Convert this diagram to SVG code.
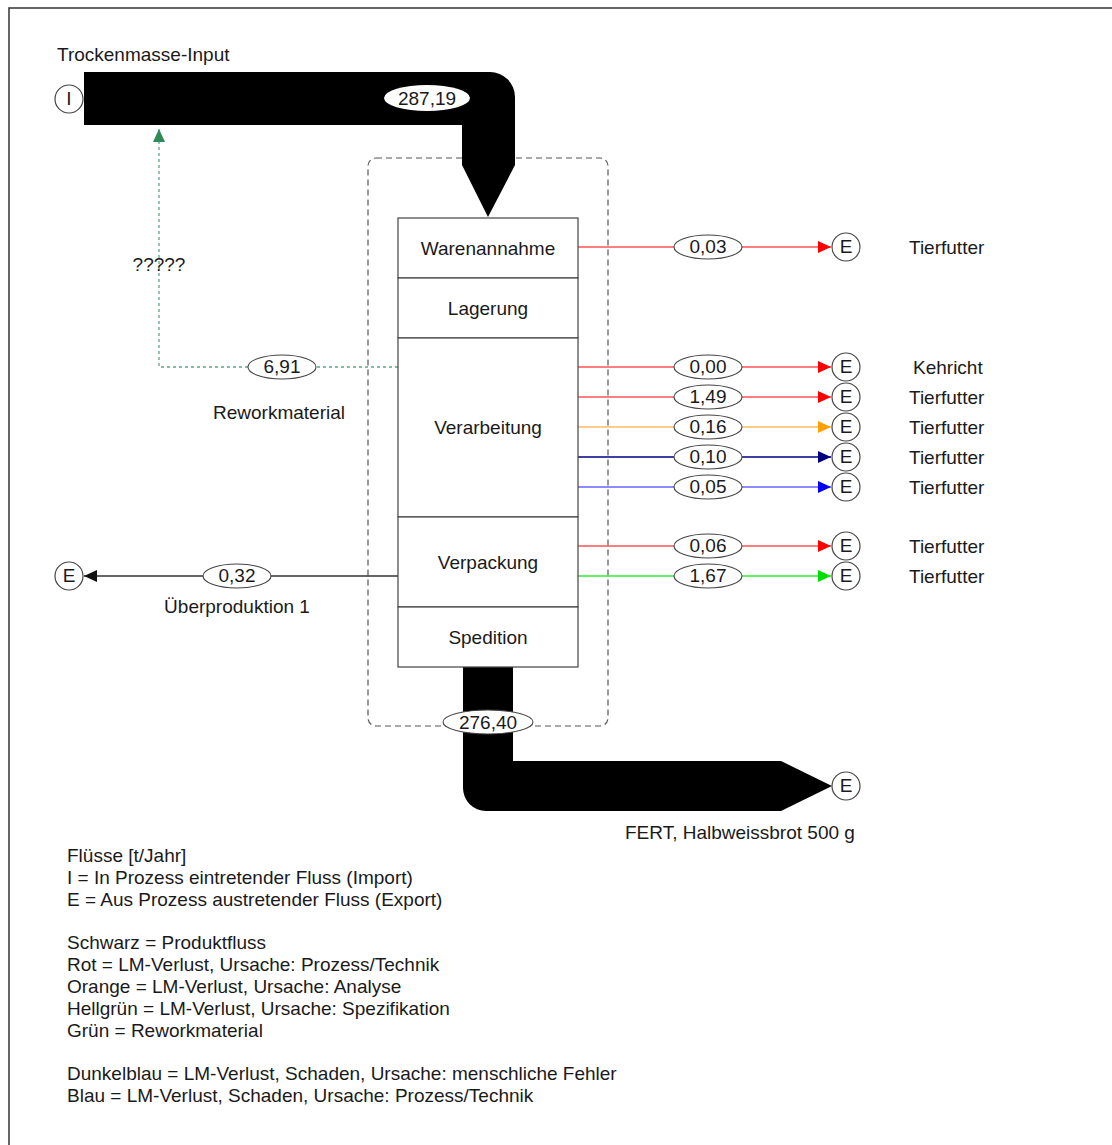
<svg xmlns="http://www.w3.org/2000/svg" width="1112" height="1145" viewBox="0 0 1112 1145">
<style>
text{font-family:"Liberation Sans",Arial,sans-serif;fill:#1a1a1a}
.t{font-size:19px}
.c{text-anchor:middle}
.lg{font-size:19px}
.box{fill:#fff;stroke:#444;stroke-width:1.2}
.lab{fill:#fff;stroke:#444;stroke-width:1.1}
.term{fill:#fff;stroke:#444;stroke-width:1.2}
.fl{fill:none;stroke-width:1.3}
</style>
<defs>
<marker id="aR" markerUnits="userSpaceOnUse" markerWidth="14" markerHeight="12" refX="13" refY="6" orient="auto"><path d="M0,0 L13,6 L0,12 Z" fill="#ff0000"/></marker>
<marker id="aO" markerUnits="userSpaceOnUse" markerWidth="14" markerHeight="12" refX="13" refY="6" orient="auto"><path d="M0,0 L13,6 L0,12 Z" fill="#ffa000"/></marker>
<marker id="aN" markerUnits="userSpaceOnUse" markerWidth="14" markerHeight="12" refX="13" refY="6" orient="auto"><path d="M0,0 L13,6 L0,12 Z" fill="#000080"/></marker>
<marker id="aB" markerUnits="userSpaceOnUse" markerWidth="14" markerHeight="12" refX="13" refY="6" orient="auto"><path d="M0,0 L13,6 L0,12 Z" fill="#0000ff"/></marker>
<marker id="aG" markerUnits="userSpaceOnUse" markerWidth="14" markerHeight="12" refX="13" refY="6" orient="auto"><path d="M0,0 L13,6 L0,12 Z" fill="#00e000"/></marker>
<marker id="aK" markerUnits="userSpaceOnUse" markerWidth="14" markerHeight="12" refX="13" refY="6" orient="auto"><path d="M0,0 L13,6 L0,12 Z" fill="#111"/></marker>
<marker id="aS" markerUnits="userSpaceOnUse" markerWidth="14" markerHeight="12" refX="13" refY="6" orient="auto"><path d="M0,0 L13,6 L0,12 Z" fill="#2e8b57"/></marker>
</defs>
<rect x="0" y="0" width="1112" height="1145" fill="#fff"/>
<rect x="9" y="8" width="1120" height="1160" fill="none" stroke="#333" stroke-width="1.5"/>

<g id="system-boundary">
<rect x="368" y="158" width="240" height="568" rx="8" fill="none" stroke="#555" stroke-width="1.2" stroke-dasharray="6 4"/>
</g>

<g id="connectors">
<g id="flow-input">
<path d="M84,72 H490 A25,25 0 0 1 515,97 V165 H462 V125 H84 Z" fill="#000"/>
<path d="M462,165 L515,165 L488,217 Z" fill="#000"/>
<ellipse cx="427" cy="98" rx="43" ry="13" fill="#fff"/>
<text class="t c" x="427" y="105">287,19</text>
</g>
<g id="flow-output">
<path d="M463,667 H513 V761 H781 V811 H486 A23,23 0 0 1 463,788 Z" fill="#000"/>
<path d="M781,761 L832,786 L781,811 Z" fill="#000"/>
</g>
<g id="flow-rework">
<polyline class="fl" points="398,367 159,367 159,129" stroke="#5aa882" stroke-dasharray="3 3" marker-end="url(#aS)"/>
</g>
<g id="flow-ueberproduktion">
<line class="fl" x1="398" y1="576" x2="84" y2="576" stroke="#333" marker-end="url(#aK)"/>
</g>
<g id="flows-right">
<line class="fl" x1="578" y1="247" x2="831" y2="247" stroke="#ff5555" marker-end="url(#aR)"/>
<line class="fl" x1="578" y1="367" x2="831" y2="367" stroke="#ff5555" marker-end="url(#aR)"/>
<line class="fl" x1="578" y1="397" x2="831" y2="397" stroke="#ff5555" marker-end="url(#aR)"/>
<line class="fl" x1="578" y1="427" x2="831" y2="427" stroke="#ffbb66" marker-end="url(#aO)"/>
<line class="fl" x1="578" y1="457" x2="831" y2="457" stroke="#000080" marker-end="url(#aN)"/>
<line class="fl" x1="578" y1="487" x2="831" y2="487" stroke="#6666ff" marker-end="url(#aB)"/>
<line class="fl" x1="578" y1="546" x2="831" y2="546" stroke="#ff5555" marker-end="url(#aR)"/>
<line class="fl" x1="578" y1="576" x2="831" y2="576" stroke="#33ee33" marker-end="url(#aG)"/>
</g>
</g>

<g id="process">
<g id="n-warenannahme"><rect class="box" x="398" y="218" width="180" height="60"/><text class="t c" x="488" y="255">Warenannahme</text></g>
<g id="n-lagerung"><rect class="box" x="398" y="278" width="180" height="60"/><text class="t c" x="488" y="315">Lagerung</text></g>
<g id="n-verarbeitung"><rect class="box" x="398" y="338" width="180" height="179"/><text class="t c" x="488" y="434">Verarbeitung</text></g>
<g id="n-verpackung"><rect class="box" x="398" y="517" width="180" height="90"/><text class="t c" x="488" y="569">Verpackung</text></g>
<g id="n-spedition"><rect class="box" x="398" y="607" width="180" height="60"/><text class="t c" x="488" y="644">Spedition</text></g>
</g>

<g id="labels">
<g><ellipse class="lab" cx="488" cy="722" rx="45" ry="12"/><text class="t c" x="488" y="729">276,40</text></g>
<g><ellipse class="lab" cx="282" cy="367" rx="34" ry="12"/><text class="t c" x="282" y="373">6,91</text></g>
<g><ellipse class="lab" cx="237" cy="576" rx="34" ry="12"/><text class="t c" x="237" y="582">0,32</text></g>
<g><ellipse class="lab" cx="708" cy="247" rx="34" ry="12"/><text class="t c" x="708" y="253">0,03</text></g>
<g><ellipse class="lab" cx="708" cy="367" rx="34" ry="12"/><text class="t c" x="708" y="373">0,00</text></g>
<g><ellipse class="lab" cx="708" cy="397" rx="34" ry="12"/><text class="t c" x="708" y="403">1,49</text></g>
<g><ellipse class="lab" cx="708" cy="427" rx="34" ry="12"/><text class="t c" x="708" y="433">0,16</text></g>
<g><ellipse class="lab" cx="708" cy="457" rx="34" ry="12"/><text class="t c" x="708" y="463">0,10</text></g>
<g><ellipse class="lab" cx="708" cy="487" rx="34" ry="12"/><text class="t c" x="708" y="493">0,05</text></g>
<g><ellipse class="lab" cx="708" cy="546" rx="34" ry="12"/><text class="t c" x="708" y="552">0,06</text></g>
<g><ellipse class="lab" cx="708" cy="576" rx="34" ry="12"/><text class="t c" x="708" y="582">1,67</text></g>
</g>

<g id="terminals">
<g id="t-input"><circle class="term" cx="69" cy="99" r="14"/><text class="t c" x="69" y="105">I</text></g>
<g id="t-ueber"><circle class="term" cx="69" cy="576" r="14"/><text class="t c" x="69" y="582">E</text></g>
<g id="t-out"><circle class="term" cx="846" cy="786" r="14"/><text class="t c" x="846" y="792">E</text></g>
<g><circle class="term" cx="846" cy="247" r="14"/><text class="t c" x="846" y="253">E</text></g>
<g><circle class="term" cx="846" cy="367" r="14"/><text class="t c" x="846" y="373">E</text></g>
<g><circle class="term" cx="846" cy="397" r="14"/><text class="t c" x="846" y="403">E</text></g>
<g><circle class="term" cx="846" cy="427" r="14"/><text class="t c" x="846" y="433">E</text></g>
<g><circle class="term" cx="846" cy="457" r="14"/><text class="t c" x="846" y="463">E</text></g>
<g><circle class="term" cx="846" cy="487" r="14"/><text class="t c" x="846" y="493">E</text></g>
<g><circle class="term" cx="846" cy="546" r="14"/><text class="t c" x="846" y="552">E</text></g>
<g><circle class="term" cx="846" cy="576" r="14"/><text class="t c" x="846" y="582">E</text></g>
</g>

<g id="texts">
<text class="t" x="57" y="61">Trockenmasse-Input</text>
<text class="t c" x="159" y="271">?????</text>
<text class="t c" x="279" y="419">Reworkmaterial</text>
<text class="t c" x="237" y="613">Überproduktion 1</text>
<text class="t" x="625" y="839">FERT, Halbweissbrot 500 g</text>
<text class="t" x="909" y="254">Tierfutter</text>
<text class="t" x="913" y="374">Kehricht</text>
<text class="t" x="909" y="404">Tierfutter</text>
<text class="t" x="909" y="434">Tierfutter</text>
<text class="t" x="909" y="464">Tierfutter</text>
<text class="t" x="909" y="494">Tierfutter</text>
<text class="t" x="909" y="553">Tierfutter</text>
<text class="t" x="909" y="583">Tierfutter</text>
</g>

<g id="legend">
<text class="lg" x="67" y="862">Flüsse [t/Jahr]</text>
<text class="lg" x="67" y="884">I = In Prozess eintretender Fluss (Import)</text>
<text class="lg" x="67" y="906">E = Aus Prozess austretender Fluss (Export)</text>
<text class="lg" x="67" y="949">Schwarz = Produktfluss</text>
<text class="lg" x="67" y="971">Rot = LM-Verlust, Ursache: Prozess/Technik</text>
<text class="lg" x="67" y="993">Orange = LM-Verlust, Ursache: Analyse</text>
<text class="lg" x="67" y="1015">Hellgrün = LM-Verlust, Ursache: Spezifikation</text>
<text class="lg" x="67" y="1037">Grün = Reworkmaterial</text>
<text class="lg" x="67" y="1080">Dunkelblau = LM-Verlust, Schaden, Ursache: menschliche Fehler</text>
<text class="lg" x="67" y="1102">Blau = LM-Verlust, Schaden, Ursache: Prozess/Technik</text>
</g>
</svg>
